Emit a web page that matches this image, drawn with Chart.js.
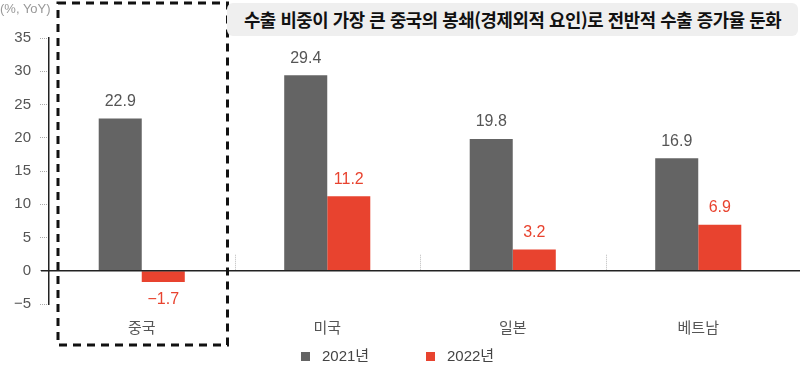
<!DOCTYPE html>
<html lang="ko">
<head>
<meta charset="utf-8">
<script src="https://cdn.jsdelivr.net/npm/chart.js@4/dist/chart.umd.min.js"></script>
<style>
  html,body{margin:0;padding:0;background:#fff;}
  body{width:800px;height:369px;position:relative;overflow:hidden;font-family:'Liberation Sans','Noto Sans CJK KR',sans-serif;}
  #wrap{position:absolute;left:0;top:0;width:800px;height:369px;}
  .unit{position:absolute;left:0;top:0;font-size:13px;color:#999;line-height:18px;}
  .note{position:absolute;left:227px;top:3px;width:571px;height:33px;line-height:33px;background:#efefef;border-radius:6px;
        text-align:center;font-family:'Noto Sans CJK KR',sans-serif;font-weight:700;font-size:17.8px;color:#111;letter-spacing:-0.4px;}
  .lg{position:absolute;top:346px;display:flex;align-items:center;font-size:15px;color:#444;line-height:20px;}
  .lg i{display:inline-block;width:9px;height:9px;margin-right:12px;}
</style>
</head>
<body>
<div id="wrap"><canvas id="chart" width="800" height="369"></canvas></div>
<div class="unit">(%, YoY)</div>
<div class="note" id="note"></div>
<div id="legend"></div>
<script>
/* ===== DATA ===== */
const categories = ['중국', '미국', '일본', '베트남'];
const seriesNames = ['2021년', '2022년'];
const values2021 = [22.9, 29.4, 19.8, 16.9];
const values2022 = [-1.7, 11.2, 3.2, 6.9];
const yTicks = [-5, 0, 5, 10, 15, 20, 25, 30, 35];
const noteText = '수출 비중이 가장 큰 중국의 봉쇄(경제외적 요인)로 전반적 수출 증가율 둔화';

const GRAY = '#646464', RED = '#e8432f';
const FONT = "'Liberation Sans','Noto Sans CJK KR',sans-serif";

document.getElementById('note').textContent = noteText;

// legend (html)
const legendX = [301, 426];
const lg = document.getElementById('legend');
[GRAY, RED].forEach((c,i)=>{
  const d = document.createElement('div');
  d.className = 'lg'; d.style.left = legendX[i]+'px';
  d.innerHTML = `<i style="background:${c}"></i><span>${seriesNames[i]}</span>`;
  lg.appendChild(d);
});

/* ===== extra drawing: zero line, separators, dashed box, value labels ===== */
const deco = {
  id:'deco',
  afterDatasetsDraw(chart){
    const {ctx, chartArea:ca, scales:{x, y}} = chart;
    const zy = y.getPixelForValue(0);
    const w = (x.right - x.left) / categories.length;
    ctx.save();

    // separators between categories
    ctx.strokeStyle = '#bbb'; ctx.lineWidth = 1; ctx.setLineDash([1,1]);
    for(let i=1;i<categories.length;i++){
      const sx = Math.round(x.left + w*i) + 0.5;
      ctx.beginPath(); ctx.moveTo(sx, zy-16); ctx.lineTo(sx, zy-1); ctx.stroke();
    }

    // zero line
    ctx.setLineDash([]);
    ctx.strokeStyle = '#222'; ctx.lineWidth = 1.5;
    ctx.beginPath(); ctx.moveTo(41, zy); ctx.lineTo(chart.width, zy); ctx.stroke();

    // dashed highlight box around first category
    ctx.strokeStyle = '#111'; ctx.lineWidth = 3; ctx.setLineDash([8,6]);
    ctx.strokeRect(x.left + 9, ca.top - 35, w - 16, ca.bottom - ca.top + 76);

    // value labels
    ctx.setLineDash([]);
    ctx.font = `16px ${FONT}`;
    ctx.textAlign = 'center'; ctx.textBaseline = 'middle';
    chart.data.datasets.forEach((ds, di)=>{
      const meta = chart.getDatasetMeta(di);
      ctx.fillStyle = di === 0 ? '#555' : RED;
      meta.data.forEach((el, i)=>{
        const v = ds.data[i];
        const t = v < 0 ? '\u2212' + Math.abs(v).toFixed(1) : v.toFixed(1);
        const ty = v < 0 ? el.y + 18 : el.y - 17;
        ctx.fillText(t, el.x, ty);
      });
    });
    ctx.restore();
  }
};

new Chart(document.getElementById('chart').getContext('2d'), {
  type:'bar',
  data:{
    labels: categories,
    datasets:[
      {label: seriesNames[0], data: values2021, backgroundColor: GRAY, borderWidth:0},
      {label: seriesNames[1], data: values2022, backgroundColor: RED, borderWidth:0}
    ]
  },
  options:{
    responsive:false,
    animation:false,
    layout:{ padding:{ top:38, right:9, left:0, bottom:0 } },
    datasets:{ bar:{ barPercentage:1, categoryPercentage:0.464 } },
    plugins:{ legend:{ display:false }, tooltip:{ enabled:false } },
    scales:{
      x:{
        grid:{ display:false },
        border:{ display:false },
        ticks:{ color:'#555', font:{ family:FONT, size:15 }, padding:8 },
        afterFit(s){ s.height = 65; }
      },
      y:{
        min:-5, max:35,
        afterBuildTicks(s){ s.ticks = yTicks.map(v=>({value:v})); },
        grid:{ drawOnChartArea:false, drawTicks:true, tickLength:9, tickColor:'#aaa', tickWidth:1, tickBorderDash:[1,1] },
        border:{ display:true, color:'#222', width:1.5 },
        ticks:{ color:'#555', font:{ family:FONT, size:15 }, padding:9,
                callback:v => v < 0 ? '\u2212' + Math.abs(v) : String(v) },
        afterFit(s){ s.width = 49; }
      }
    }
  },
  plugins:[deco]
});
</script>
</body>
</html>
